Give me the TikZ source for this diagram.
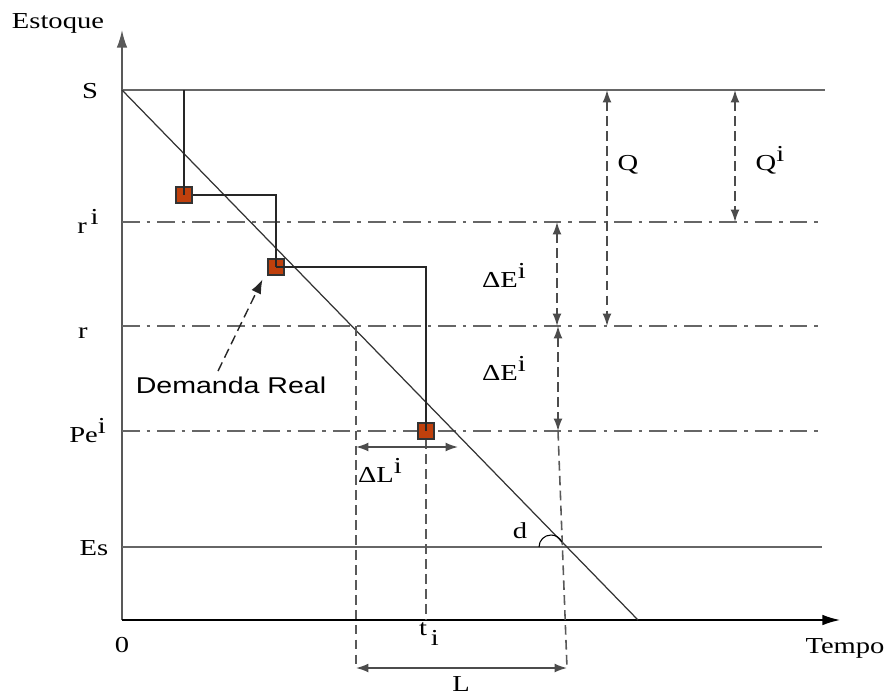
\documentclass[tikz,border=0pt]{standalone}
\usepackage{fontspec}
\setmainfont{Liberation Serif}[FakeStretch=1.25]
\newfontfamily\demfont{Liberation Sans}[FakeStretch=1.25]
\usepackage{tikz}
\usetikzlibrary{arrows.meta,positioning,calc}
\definecolor{demred}{RGB}{192,64,12}
\newcommand{\supi}[1]{\raisebox{0.8ex}{#1}}
\newcommand{\subi}[1]{\raisebox{-1ex}{#1}}

\begin{document}
\begin{tikzpicture}[
  lbl/.style={font=\fontsize{13}{15}\selectfont, inner sep=0pt, anchor=base},
  axis/.style={line width=0.9pt, color=black!65},
  level/.style={line width=0.9pt, color=black!60},
  dashdot/.style={line width=0.9pt, color=black!60,
    dash pattern=on 10pt off 4pt on 2pt off 4pt},
  guide/.style={line width=0.9pt, color=black!65, dash pattern=on 5.5pt off 3pt},
  stepline/.style={line width=0.6pt, color=black!85},
  demand/.style={rectangle, draw=black!80, fill=demred, minimum size=0.32cm,
    inner sep=0pt, line width=0.6pt},
  dimarrow/.style={{Latex[length=7pt,width=5pt]}-{Latex[length=7pt,width=5pt]},
    line width=0.9pt, color=black!70},
  ddim/.style={dimarrow, dash pattern=on 5.5pt off 3pt}
]
\useasboundingbox (-2.44,-1.5) rectangle (15.38,12.4);

\coordinate (O) at (0,0);
\draw[axis, -{Latex[length=10pt,width=6pt]}] (O) -- (0,11.8);
\draw[line width=0.8pt, -{Latex[length=10pt,width=6pt]}] (O) -- (14.36,0);

\draw[level] (0,10.6) -- (14.06,10.6);
\draw[dashdot] (0,7.96) -- (14.0,7.96);
\draw[dashdot] (0,5.88) -- (14.0,5.88);
\draw[dashdot] (0,3.78) -- (14.0,3.78);
\draw[level] (0,1.46) -- (14.0,1.46);

\draw[line width=0.7pt, color=black!80] (0,10.6) -- (10.32,0);

\node[demand] (D1) at (1.24,8.5) {};
\node[demand] (D2) at (3.08,7.06) {};
\node[demand] (D3) at (6.08,3.78) {};

\draw[stepline] (1.24,10.6) -- (D1.center);
\draw[stepline] (D1.east) -- (3.08,8.5) -- (D2.center);
\draw[stepline] (D2.center) -- (6.08,7.06) -- (D3.center);

\draw[guide] (4.68,5.88) -- (4.68,-0.96);
\draw[guide] (D3.south) -- (6.08,0);
\draw[guide] (8.72,3.78) -- (8.9,-0.96);

\draw[dimarrow] (4.68,3.46) -- (6.72,3.46);
\draw[dimarrow] (4.68,-0.96) -- (8.9,-0.96);

\draw[ddim] (9.7,10.6) -- (9.7,5.88);
\draw[ddim] (12.26,10.6) -- (12.26,7.96);
\draw[ddim] (8.7,7.96) -- (8.7,5.88);
\draw[ddim] (8.72,5.88) -- (8.72,3.78);

\draw[line width=0.6pt] (8.34,1.46) arc[start angle=180, end angle=25, radius=0.24];

\node[lbl] (est) at (-1.28,11.84) {Estoque};
\node[lbl] (tem) at (14.46,-0.66) {Tempo};
\node[lbl] (zero) at (0,-0.64) {0};
\node[lbl] (lS) at (-0.64,10.44) {S};
\node[lbl] (lri) at (-0.68,7.74) {r\,\supi{i}};
\node[lbl] (lr) at (-0.78,5.64) {r};
\node[lbl] (lPe) at (-0.69,3.56) {Pe\supi{i}};
\node[lbl] (lEs) at (-0.56,1.3) {Es};

\node[lbl] (lQ) at (10.12,9.0) {Q};
\node[lbl] (lQi) at (12.96,9.0) {Q\supi{i}};
\node[lbl] (lE1) at (7.64,6.66) {ΔE\supi{i}};
\node[lbl] (lE2) at (7.64,4.8) {ΔE\supi{i}};
\node[lbl] (lL1) at (5.16,2.76) {ΔL\supi{i}};
\node[lbl] (lti) at (6.14,-0.3) {t\,\subi{i}};
\node[lbl] (lL) at (6.78,-1.42) {L};
\node[lbl] (ld) at (7.96,1.64) {d};

\node[lbl, font=\demfont\fontsize{13}{15}\selectfont] (DR) at (2.18,4.54) {Demanda Real};
\draw[guide, line width=0.8pt, color=black!85, -{Latex[length=8pt,width=6pt]}]
  ($(DR.north)+(-0.26,0.1)$) -- ($(D2.south west)+(-0.1,-0.08)$);
\end{tikzpicture}
\end{document}
